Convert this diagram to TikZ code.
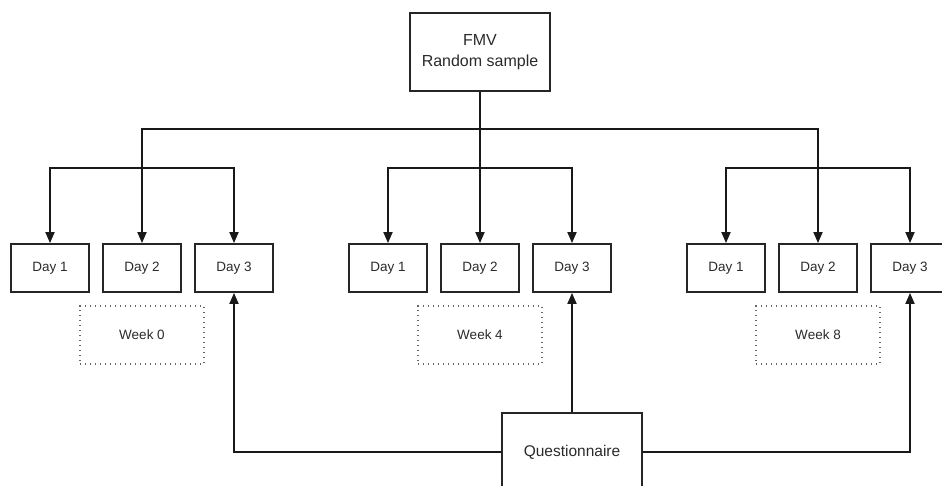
\documentclass[tikz,border=0pt]{standalone}
\usepackage{fontspec}
\setmainfont{Liberation Sans}
\usetikzlibrary{arrows.meta}
\definecolor{txt}{HTML}{2A2A2A}
\begin{document}
\begin{tikzpicture}[x=1pt,y=-1pt,
  box/.style={draw=black!85,line width=1.8pt,minimum width=78pt,minimum height=48pt,inner sep=0pt,text=txt,font=\fontsize{13.5}{15}\selectfont},
  bigbox/.style={draw=black!85,line width=1.8pt,minimum width=140pt,minimum height=78pt,inner sep=0pt,text=txt,align=center,font=\fontsize{16}{21}\selectfont},
  weekbox/.style={draw=black!60,line width=1.4pt,dash pattern=on 1.4pt off 3.6pt,minimum width=124pt,minimum height=58pt,inner sep=0pt,text=txt,font=\fontsize{13.5}{15}\selectfont},
  conn/.style={draw=black!90,line width=1.8pt},
  arr/.style={conn,-{Triangle[length=11pt,width=9pt]}}]
\useasboundingbox (0,0) rectangle (942,486);
\node[bigbox] (fmv) at (480,52) {FMV\\Random sample};
\node[box] (d01) at (50,268) {Day 1};
\node[box] (d02) at (142,268) {Day 2};
\node[box] (d03) at (234,268) {Day 3};
\node[box] (d41) at (388,268) {Day 1};
\node[box] (d42) at (480,268) {Day 2};
\node[box] (d43) at (572,268) {Day 3};
\node[box] (d81) at (726,268) {Day 1};
\node[box] (d82) at (818,268) {Day 2};
\node[box] (d83) at (910,268) {Day 3};
\node[weekbox] (w0) at (142,335) {Week 0};
\node[weekbox] (w4) at (480,335) {Week 4};
\node[weekbox] (w8) at (818,335) {Week 8};
\node[bigbox,font=\fontsize{15.5}{18}\selectfont] (q) at (572,452) {Questionnaire};
\coordinate (bar) at (0,129);
\coordinate (sub) at (0,168);
\coordinate (hub) at (fmv.south |- bar);
\draw[arr] (fmv.south) -- (d42.north);
\draw[arr] (hub) -| (d02.north);
\draw[arr] (hub) -| (d82.north);
\coordinate (s0) at (d02.north |- sub);
\coordinate (s4) at (d42.north |- sub);
\coordinate (s8) at (d82.north |- sub);
\draw[arr] (s0) -| (d01.north);
\draw[arr] (s0) -| (d03.north);
\draw[arr] (s4) -| (d41.north);
\draw[arr] (s4) -| (d43.north);
\draw[arr] (s8) -| (d81.north);
\draw[arr] (s8) -| (d83.north);
\draw[arr] (q.west) -| (d03.south);
\draw[arr] (q.north) -- (d43.south);
\draw[arr] (q.east) -| (d83.south);
\end{tikzpicture}
\end{document}
